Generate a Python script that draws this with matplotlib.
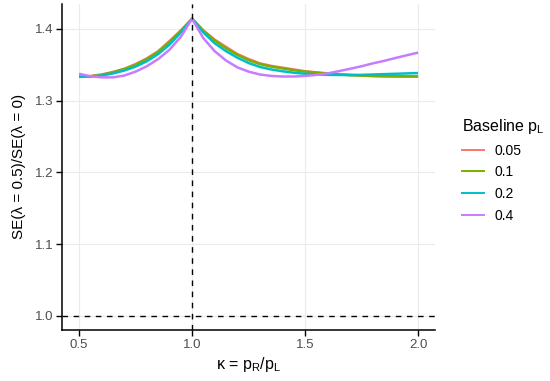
import matplotlib
matplotlib.use("Agg")
import matplotlib.pyplot as plt

plt.rcParams['font.family'] = ['Liberation Sans', 'DejaVu Sans']
plt.rcParams['mathtext.fontset'] = 'custom'
plt.rcParams['mathtext.rm'] = 'Liberation Sans'
plt.rcParams['mathtext.it'] = 'Liberation Sans'

# kappa = pR / pL
kappa = [0.50, 0.55, 0.60, 0.65, 0.70, 0.75, 0.80, 0.85, 0.90, 0.95, 1.00,
         1.05, 1.10, 1.15, 1.20, 1.25, 1.30, 1.35, 1.40, 1.45, 1.50,
         1.55, 1.60, 1.65, 1.70, 1.75, 1.80, 1.85, 1.90, 1.95, 2.00]

# SE ratio, one list per baseline pL
se_005 = [1.3335, 1.3343, 1.3365, 1.3400, 1.3445, 1.3510, 1.3590, 1.3690, 1.3830, 1.3980, 1.4142,
          1.3980, 1.3850, 1.3750, 1.3650, 1.3580, 1.3520, 1.3485, 1.3460, 1.3435, 1.3410,
          1.3395, 1.3380, 1.3370, 1.3360, 1.3350, 1.3343, 1.3340, 1.3337, 1.3335, 1.3334]
se_01 = [1.3334, 1.3340, 1.3360, 1.3395, 1.3440, 1.3500, 1.3580, 1.3680, 1.3820, 1.3970, 1.4142,
         1.3970, 1.3840, 1.3730, 1.3640, 1.3565, 1.3510, 1.3475, 1.3450, 1.3425, 1.3405,
         1.3390, 1.3375, 1.3365, 1.3355, 1.3350, 1.3345, 1.3340, 1.3340, 1.3340, 1.3340]
se_02 = [1.3333, 1.3335, 1.3350, 1.3380, 1.3420, 1.3475, 1.3550, 1.3650, 1.3780, 1.3950, 1.4142,
         1.3950, 1.3800, 1.3690, 1.3600, 1.3525, 1.3470, 1.3435, 1.3410, 1.3390, 1.3375,
         1.3367, 1.3360, 1.3358, 1.3358, 1.3360, 1.3365, 1.3370, 1.3375, 1.3380, 1.3385]
se_04 = [1.3375, 1.3340, 1.3325, 1.3325, 1.3350, 1.3405, 1.3480, 1.3580, 1.3710, 1.3890, 1.4142,
         1.3870, 1.3690, 1.3560, 1.3465, 1.3405, 1.3365, 1.3345, 1.3337, 1.3337, 1.3345,
         1.3360, 1.3380, 1.3412, 1.3445, 1.3480, 1.3520, 1.3555, 1.3595, 1.3633, 1.3670]

labels = ['0.05', '0.1', '0.2', '0.4']
colors = ['#F8766D', '#7CAE00', '#00BFC4', '#C77CFF']

fig = plt.figure(figsize=(5.5, 3.81), dpi=100)
ax = fig.add_axes([0.113, 0.134, 0.678, 0.856])

for ys, lab, col in zip([se_005, se_01, se_02, se_04], labels, colors):
    ax.plot(kappa, ys, color=col, lw=1.8, label=lab, solid_capstyle='butt')

ax.axvline(1.0, color='black', ls=(0, (4, 4)), lw=1.0)
ax.axhline(1.0, color='black', ls=(0, (4, 4)), lw=1.0)

ax.set_xlim(0.425, 2.075)
ax.set_ylim(0.9805, 1.435)
ax.set_xticks([0.5, 1.0, 1.5, 2.0])
ax.set_yticks([1.0, 1.1, 1.2, 1.3, 1.4])
ax.set_xticklabels(['0.5', '1.0', '1.5', '2.0'])
ax.set_yticklabels(['1.0', '1.1', '1.2', '1.3', '1.4'])

ax.grid(True, color='#EBEBEB', lw=0.8)
ax.set_axisbelow(True)
for s in ['top', 'right']:
    ax.spines[s].set_visible(False)
for s in ['left', 'bottom']:
    ax.spines[s].set_linewidth(1.1)
ax.tick_params(length=4, width=1.0, color='black', labelcolor='#4D4D4D',
               labelsize=9.5, pad=2.5)

ax.set_xlabel(r'κ = p$_\mathrm{R}$/p$_\mathrm{L}$', fontsize=11.5, labelpad=3)
ax.set_ylabel('SE(λ = 0.5)/SE(λ = 0)', fontsize=11, labelpad=6)

handles = [plt.Line2D([], [], color=c, lw=1.4) for c in colors]
leg = fig.legend(handles, labels, title=r'Baseline p$_\mathrm{L}$', loc='upper left',
                 bbox_to_anchor=(462 / 550, 1 - 117 / 381), frameon=False, fontsize=10,
                 title_fontsize=11.5, handlelength=1.6, handletextpad=0.75,
                 labelspacing=0.55, borderpad=0, borderaxespad=0)
leg._legend_box.align = 'left'

fig.savefig('out.png', dpi=100)
